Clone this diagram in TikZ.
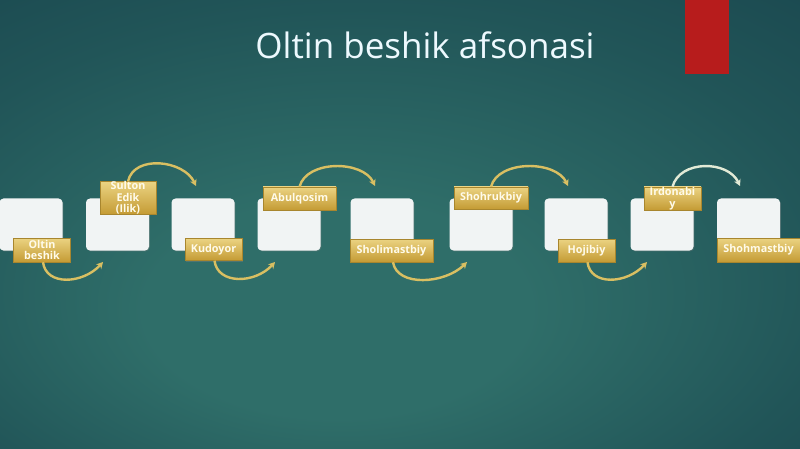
\documentclass[tikz,border=0pt]{standalone}
\usepackage{fontspec}
\setmainfont{Open Sans}
\usetikzlibrary{arrows.meta,shadows}
\definecolor{bgin}{HTML}{2F6E69}
\definecolor{bgmid}{HTML}{215558}
\definecolor{bgout}{HTML}{123744}
\definecolor{goldtop}{HTML}{EBD382}
\definecolor{goldbot}{HTML}{C49B34}
\definecolor{goldedge}{HTML}{A8862E}
\definecolor{arcgold}{HTML}{D9BF62}
\definecolor{arcpale}{HTML}{E2EAD6}
\definecolor{redbar}{HTML}{B71C1C}
\definecolor{boxfill}{HTML}{F1F4F4}
\definecolor{labtext}{HTML}{FFFBEA}
\pgfdeclareradialshading{bgshade}{\pgfpoint{-5bp}{-12bp}}{color(0bp)=(bgin); color(12bp)=(bgin); color(30bp)=(bgmid); color(58bp)=(bgout)}
\tikzset{
  card/.style={draw=none, fill=boxfill, rounded corners=4pt, minimum width=63pt, minimum height=52pt, inner sep=0pt,
    drop shadow={opacity=0.35, shadow xshift=0.8pt, shadow yshift=-0.8pt}},
  tag/.style={draw=goldedge, line width=0.4pt, top color=goldtop, bottom color=goldbot, inner sep=0pt,
    minimum height=23pt, text=labtext, align=center,
    font=\fontsize{10.8}{11.5}\selectfont\bfseries,
    drop shadow={opacity=0.4, shadow xshift=0.8pt, shadow yshift=-1pt}},
  link/.style={draw=arcgold, line width=2.4pt, -{Stealth[length=6.5pt,width=7pt]}},
}
\begin{document}
\begin{tikzpicture}[x=1pt,y=-1pt]
\useasboundingbox (0,0) rectangle (800,449);
\shade[shading=bgshade] (0,0) rectangle (800,449);
\fill[redbar] (685,0) rectangle (729,74);
\node[text=white!93!cyan, font=\fontsize{35}{40}\selectfont] (title) at (425,45) {Oltin beshik afsonasi};

% cards
\node[card] (b1) at (31,224.5) {};
\node[card] (b2) at (117.5,224.5) {};
\node[card] (b3) at (203,224.5) {};
\node[card] (b4) at (289,224.5) {};
\node[card] (b5) at (382,224.5) {};
\node[card] (b6) at (481,224.5) {};
\node[card] (b7) at (576,224.5) {};
\node[card] (b8) at (662,224.5) {};
\node[card] (b9) at (748.5,224.5) {};

% tags
\node[tag, minimum width=57pt, minimum height=24pt] (l1) at (42,250) {Oltin\\beshik};
\node[tag, minimum width=56pt, minimum height=24pt] (l2) at (128,198) {Sulton\\Edik\\(Ilik)};
\node[tag, minimum width=57pt, minimum height=22pt] (l3) at (213.5,249.5) {Kudoyor};
\node[tag, minimum width=73pt] (l4) at (299.5,198.5) {Abulqosim};
\node[tag, minimum width=83pt] (l5) at (391.5,250.5) {Sholimastbiy};
\node[tag, minimum width=74pt, minimum height=22pt] (l6) at (491,198) {Shohrukbiy};
\node[tag, minimum width=57pt] (l7) at (586.5,250.5) {Hojibiy};
\node[tag, minimum width=57pt] (l8) at (672.5,198.5) {Irdonabi\\y};
\node[tag, minimum width=83pt, minimum height=24pt] (l9) at (758.5,250) {Shohmastbiy};

% arrow end points
\coordinate (e1) at (103,262);
\coordinate (e2) at (196,186);
\coordinate (e3) at (275,262);
\coordinate (e4) at (375,186);
\coordinate (e5) at (467,262);
\coordinate (e6) at (568,186);
\coordinate (e7) at (647,262);
\coordinate (e8) at (740,186);

\draw[link] ([xshift=1pt]l1.south) .. controls +(3,24) and +(-20,22) .. (e1);
\draw[link] (l2.north) .. controls +(6,-27) and +(-12,-26) .. (e2);
\draw[link] ([xshift=1pt]l3.south) .. controls +(3,24) and +(-20,22) .. (e3);
\draw[link] (l4.north) .. controls +(7,-27) and +(-12,-26) .. (e4);
\draw[link] ([xshift=1.5pt]l5.south) .. controls +(4,25) and +(-22,22) .. (e5);
\draw[link] (l6.north) .. controls +(7,-27) and +(-12,-26) .. (e6);
\draw[link] ([xshift=1pt]l7.south) .. controls +(3,24) and +(-20,22) .. (e7);
\draw[link, draw=arcpale] (l8.north) .. controls +(7,-27) and +(-12,-26) .. (e8);
\end{tikzpicture}
\end{document}
